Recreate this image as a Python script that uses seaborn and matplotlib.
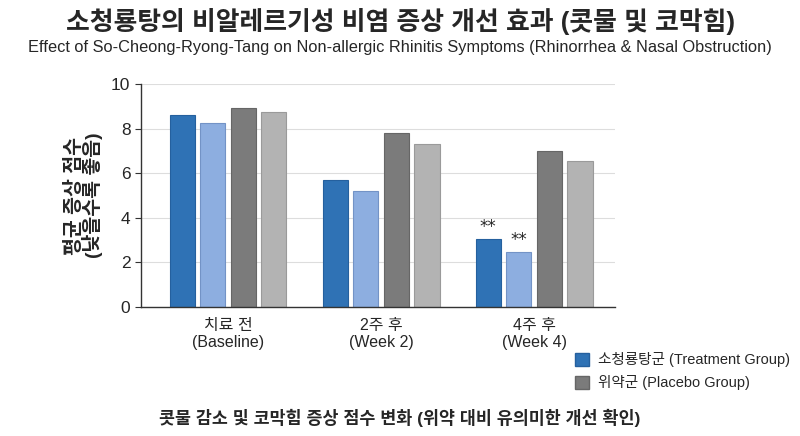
import numpy as np
import pandas as pd
import matplotlib
matplotlib.use('Agg')
import matplotlib.pyplot as plt
from matplotlib.patches import Patch
import seaborn as sns

# 데이터
시점 = ['치료 전\n(Baseline)', '2주 후\n(Week 2)', '4주 후\n(Week 4)']
치료군_콧물 = [8.6, 5.72, 3.05]
치료군_코막힘 = [8.25, 5.2, 2.47]
위약군_콧물 = [8.92, 7.8, 7.0]
위약군_코막힘 = [8.74, 7.3, 6.55]
시리즈 = ['치료군_콧물', '치료군_코막힘', '위약군_콧물', '위약군_코막힘']
색상 = ['#2F72B5', '#8DAEE0', '#7B7B7B', '#B3B3B3']
테두리 = ['#25609E', '#7393C6', '#666666', '#9A9A9A']
범례 = ['소청룡탕군 (Treatment Group)', '위약군 (Placebo Group)']

df = pd.DataFrame({
    '시점': 시점 * 4,
    '그룹': np.repeat(시리즈, 3),
    '점수': 치료군_콧물 + 치료군_코막힘 + 위약군_콧물 + 위약군_코막힘,
})

sns.set_style('white')
plt.rcParams['font.family'] = ['Liberation Sans', 'Noto Sans CJK KR']

fig = plt.figure(figsize=(8, 4.36), dpi=100)
ax = fig.add_axes([0.176, 0.296, 0.593, 0.511])

sns.barplot(data=df, x='시점', y='점수', hue='그룹', hue_order=시리즈,
            palette=색상, saturation=1, width=0.8, gap=0.18, ax=ax, legend=False)

# 막대 테두리
for i, cont in enumerate(ax.containers):
    for p in cont:
        p.set_edgecolor(테두리[i])
        p.set_linewidth(0.8)

# 유의성 표시
for cont in ax.containers[:2]:
    p = cont[2]
    ax.text(p.get_x() + p.get_width() / 2, p.get_height() + 0.12, '**',
            ha='center', va='bottom', fontsize=12, family=['DejaVu Sans'])

ax.set_ylim(0, 10)
ax.set_xlim(-0.57, 2.53)
ax.set_yticks(np.arange(0, 11, 2))
ax.yaxis.grid(True, color='#DDDDDD', linewidth=0.8)
ax.set_axisbelow(True)
ax.tick_params(axis='y', labelsize=12.5, length=4, left=True, color='#333333')
ax.tick_params(axis='x', labelsize=11.5, length=0, pad=8)
for s in ['top', 'right']:
    ax.spines[s].set_visible(False)
for s in ['left', 'bottom']:
    ax.spines[s].set_color('#333333')
    ax.spines[s].set_linewidth(1.0)
ax.set_xlabel('')
ax.set_ylabel('평균 증상 점수\n(낮을수록 좋음)', fontsize=14, fontweight='bold',
              linespacing=0.85, labelpad=6)

핸들 = [Patch(facecolor=색상[0], edgecolor=테두리[0]),
      Patch(facecolor=색상[2], edgecolor=테두리[2])]
fig.legend(핸들, 범례, loc='upper left', bbox_to_anchor=(0.712, 0.205),
           frameon=False, fontsize=10.5, handlelength=0.95, handleheight=0.95,
           handletextpad=0.6, labelspacing=0.55, borderaxespad=0)

fig.text(0.5, 0.950, '소청룡탕의 비알레르기성 비염 증상 개선 효과 (콧물 및 코막힘)',
         ha='center', va='center', fontsize=18.6, fontweight='bold')
fig.text(0.5, 0.892, 'Effect of So-Cheong-Ryong-Tang on Non-allergic Rhinitis Symptoms (Rhinorrhea & Nasal Obstruction)',
         ha='center', va='center', fontsize=11.8)
fig.text(0.5, 0.042, '콧물 감소 및 코막힘 증상 점수 변화 (위약 대비 유의미한 개선 확인)',
         ha='center', va='center', fontsize=12.5, fontweight='bold')

fig.savefig('out.png', dpi=100)
